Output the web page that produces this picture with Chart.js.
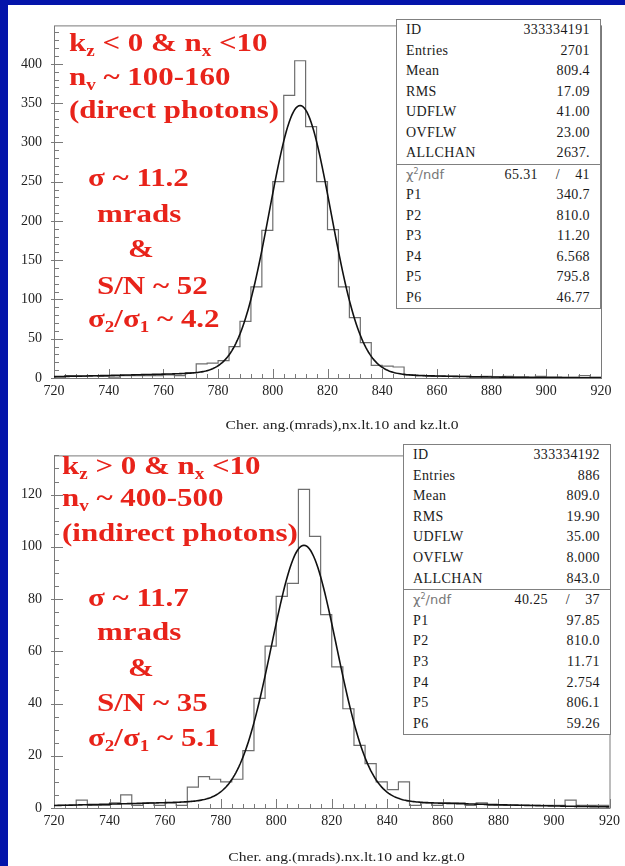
<!DOCTYPE html>
<html lang="en">
<head>
<meta charset="UTF-8">
<title>Cherenkov angle, nx &lt; 10</title>
<script src="https://cdn.jsdelivr.net/npm/chart.js"></script>
<style>
  body {
    margin: 0;
    width: 625px;
    height: 866px;
    position: relative;
    overflow: hidden;
    background: #0414aa;
    font-family: 'Liberation Serif', 'Times New Roman', serif;
  }
  .sheet { position: absolute; left: 8px; top: 5px; width: 617px; height: 861px; background: #fff; }
  canvas { position: absolute; left: 8px; }
  .note {
    position: absolute;
    color: #e8231a;
    font: bold 26px 'Liberation Serif', serif;
    line-height: 1;
    white-space: nowrap;
    transform: scaleX(1.19);
    transform-origin: 0 50%;
  }
  .note sub { font-size: 16px; vertical-align: -5px; line-height: 1; }
  .axis-title {
    position: absolute;
    left: 0;
    width: 625px;
    text-align: center;
    font-size: 13px;
    color: #222;
    white-space: nowrap;
  }
  .axis-title span { display: inline-block; transform: scaleX(1.2); }
  .stats {
    position: absolute;
    box-sizing: border-box;
    background: #fff;
    border: 1px solid #808080;
    font-size: 14px;
    color: #1a1a1a;
    letter-spacing: 0.4px;
  }
  .stats .sec + .sec { border-top: 1px solid #808080; }
  .stats .row {
    position: relative;
    display: flex;
    justify-content: space-between;
    padding: 0 10px 0 9px;
  }
  .stats .chil { font-family: 'DejaVu Sans', sans-serif; font-size: 13px; color: #777; letter-spacing: 0; }
  .stats .chil sup { font-size: 8px; line-height: 0; }
  .stats .chiv { position: absolute; right: 62px; }
  .stats .slash { position: absolute; right: 40px; }
</style>
</head>
<body>
<div class="sheet"></div>

<canvas id="kzNeg" width="617" height="430" style="top:5px"></canvas>
<canvas id="kzPos" width="617" height="431" style="top:435px"></canvas>

<div class="axis-title" id="titleNeg" style="top:417px; padding-left:30px"></div>
<div class="axis-title" id="titlePos" style="top:849px; padding-left:34px"></div>

<div class="stats" id="statsNeg" style="left:396px; top:19px; width:205px;"></div>
<div class="stats" id="statsPos" style="left:403px; top:444px; width:208px;"></div>

<!-- kz < 0 notes -->
<div class="note" style="left:69px; top:30px">k<sub>z</sub> &lt; 0 &amp; n<sub>x</sub> &lt;10</div>
<div class="note" style="left:69px; top:64px">n<sub>v</sub> ~ 100-160</div>
<div class="note" style="left:69px; top:97px">(direct photons)</div>
<div class="note" style="left:88px; top:165px">σ ~ 11.2</div>
<div class="note" style="left:97px; top:201px">mrads</div>
<div class="note" style="left:128px; top:236px">&amp;</div>
<div class="note" style="left:97px; top:273px">S/N ~ 52</div>
<div class="note" style="left:88px; top:306px">σ<sub>2</sub>/σ<sub>1</sub> ~ 4.2</div>

<!-- kz > 0 notes -->
<div class="note" style="left:62px; top:453px">k<sub>z</sub> &gt; 0 &amp; n<sub>x</sub> &lt;10</div>
<div class="note" style="left:62px; top:485px">n<sub>v</sub> ~ 400-500</div>
<div class="note" style="left:62px; top:520px">(indirect photons)</div>
<div class="note" style="left:88px; top:585px">σ ~ 11.7</div>
<div class="note" style="left:97px; top:619px">mrads</div>
<div class="note" style="left:128px; top:655px">&amp;</div>
<div class="note" style="left:97px; top:690px">S/N ~ 35</div>
<div class="note" style="left:88px; top:725px">σ<sub>2</sub>/σ<sub>1</sub> ~ 5.1</div>

<script>
  // 50 bins of 4 mrad from 720 to 920
  const binStart = 720;
  const binWidth = 4;

  const countsKzNeg = [
    1, 3, 2, 3, 2, 1, 3, 3, 3, 3, 4, 3,
    7, 18, 19, 22, 40, 72, 116, 188, 250, 360, 404, 320, 250, 189, 116, 77, 45, 16, 15, 14,
    4, 3, 2, 2, 2, 2, 1, 2, 1, 2, 1, 1, 2, 1, 1, 1, 3, 1
  ];
  const countsKzPos = [
    1, 1, 3, 1, 1, 2, 5, 1, 2, 1, 2, 1,
    8, 12, 11, 10, 11, 22, 42, 62, 81, 86, 122, 104, 74, 54, 38, 24, 17, 10, 7, 10,
    1, 2, 1, 2, 2, 1, 2, 1, 1, 1, 1, 1, 1, 1, 3, 1, 1, 1
  ];

  const xTicks = [720, 740, 760, 780, 800, 820, 840, 860, 880, 900, 920];
  const yTicksKzNeg = [0, 50, 100, 150, 200, 250, 300, 350, 400];
  const yTicksKzPos = [0, 20, 40, 60, 80, 100, 120];

  const statLabels = ['ID', 'Entries', 'Mean', 'RMS', 'UDFLW', 'OVFLW', 'ALLCHAN'];
  const statsKzNeg = ['333334191', '2701', '809.4', '17.09', '41.00', '23.00', '2637.'];
  const statsKzPos = ['333334192', '886', '809.0', '19.90', '35.00', '8.000', '843.0'];

  const chi2KzNeg = ['65.31', '41'];
  const chi2KzPos = ['40.25', '37'];

  // double gaussian fit: P1..P3 narrow peak, P4..P6 wide background
  const parLabels = ['P1', 'P2', 'P3', 'P4', 'P5', 'P6'];
  const parsKzNeg = ['340.7', '810.0', '11.20', '6.568', '795.8', '46.77'];
  const parsKzPos = ['97.85', '810.0', '11.71', '2.754', '806.1', '59.26'];

  const axisTitles = [
    'Cher. ang.(mrads),nx.lt.10 and kz.lt.0',
    'Cher. ang.(mrads).nx.lt.10 and kz.gt.0'
  ];

  const serif = "'Liberation Serif', 'Times New Roman', serif";

  function histPoints(counts) {
    const pts = counts.map((c, i) => ({ x: binStart + i * binWidth, y: c }));
    pts.push({ x: binStart + counts.length * binWidth, y: counts[counts.length - 1] });
    return pts;
  }

  function fitPoints(pars) {
    const [p1, p2, p3, p4, p5, p6] = pars.map(Number);
    const pts = [];
    for (let x = 720; x <= 920; x += 0.5) {
      const y = p1 * Math.exp(-0.5 * ((x - p2) / p3) ** 2) +
                p4 * Math.exp(-0.5 * ((x - p5) / p6) ** 2);
      pts.push({ x, y });
    }
    return pts;
  }

  // frame with inward ticks, PAW style
  const frameTicks = {
    id: 'frameTicks',
    beforeDatasetsDraw(chart, args, opts) {
      const { ctx, chartArea: a, scales: { x, y } } = chart;
      ctx.save();
      ctx.strokeStyle = '#7a7a7a';
      ctx.lineWidth = 1;
      ctx.strokeRect(a.left + 0.5, a.top + 0.5, a.right - a.left, a.bottom - a.top);
      ctx.beginPath();
      for (let v = x.min; v <= x.max + 1e-6; v += opts.xMinor) {
        const px = Math.round(x.getPixelForValue(v)) + 0.5;
        const len = Math.abs((v - x.min) % opts.xMajor) < 1e-6 ? 9 : 4;
        ctx.moveTo(px, a.bottom);
        ctx.lineTo(px, a.bottom - len);
      }
      for (let v = 0; v <= y.max; v += opts.yMinor) {
        const py = Math.round(y.getPixelForValue(v)) + 0.5;
        const major = v % opts.yMajor === 0;
        ctx.moveTo(a.left - (major ? 3 : 0), py);
        ctx.lineTo(a.left + (major ? 9 : 5), py);
      }
      ctx.stroke();
      ctx.restore();
    }
  };

  function makeChart(id, counts, pars, o) {
    new Chart(document.getElementById(id), {
      type: 'line',
      data: {
        datasets: [
          { data: fitPoints(pars), borderColor: '#111', borderWidth: 1.6, pointRadius: 0, order: 0 },
          { data: histPoints(counts), borderColor: '#6e6e6e', borderWidth: 1.2, pointRadius: 0,
            stepped: 'before', order: 1 }
        ]
      },
      options: {
        responsive: false,
        animation: false,
        events: [],
        layout: { padding: { top: o.padTop, right: o.padRight, left: 0, bottom: 0 } },
        plugins: {
          legend: { display: false },
          tooltip: { enabled: false },
          frameTicks: { xMinor: 4, xMajor: 20, yMinor: o.yMinor, yMajor: o.yStep }
        },
        scales: {
          x: {
            type: 'linear',
            min: 720,
            max: 920,
            grid: { display: false, drawTicks: false },
            border: { display: false },
            ticks: { padding: 5, maxRotation: 0, autoSkip: false, color: '#222',
                     font: { family: serif, size: 14 } },
            afterBuildTicks: s => { s.ticks = xTicks.map(v => ({ value: v })); },
            afterFit: s => { s.height = o.xHeight; }
          },
          y: {
            min: 0,
            max: o.yMax,
            grid: { display: false, drawTicks: false },
            border: { display: false },
            ticks: { padding: 12, color: '#222', font: { family: serif, size: 14 } },
            afterBuildTicks: s => { s.ticks = o.yTicks.map(v => ({ value: v })); },
            afterFit: s => { s.width = 46; }
          }
        }
      },
      plugins: [frameTicks]
    });
  }

  function fillStats(el, values, chi2, pars) {
    let html = '<div class="sec">';
    statLabels.forEach((l, i) => {
      html += `<div class="row"><span>${l}</span><span>${values[i]}</span></div>`;
    });
    html += '</div><div class="sec">';
    html += `<div class="row"><span class="chil">χ<sup>2</sup>/ndf</span>` +
            `<span class="chiv">${chi2[0]}</span><span class="slash">/</span><span>${chi2[1]}</span></div>`;
    parLabels.forEach((l, i) => {
      html += `<div class="row"><span>${l}</span><span>${pars[i]}</span></div>`;
    });
    html += '</div>';
    el.innerHTML = html;
  }

  function rowHeights(el, h) {
    el.querySelectorAll('.row').forEach(r => {
      r.style.height = h + 'px';
      r.style.lineHeight = h + 'px';
    });
  }

  makeChart('kzNeg', countsKzNeg, parsKzNeg,
    { padTop: 14, padRight: 24, xHeight: 57, yMax: 449, yStep: 50, yMinor: 10, yTicks: yTicksKzNeg });
  makeChart('kzPos', countsKzPos, parsKzPos,
    { padTop: 9, padRight: 15, xHeight: 58, yMax: 135, yStep: 20, yMinor: 5, yTicks: yTicksKzPos });

  document.getElementById('titleNeg').innerHTML = `<span>${axisTitles[0]}</span>`;
  document.getElementById('titlePos').innerHTML = `<span>${axisTitles[1]}</span>`;

  const boxNeg = document.getElementById('statsNeg');
  const boxPos = document.getElementById('statsPos');
  fillStats(boxNeg, statsKzNeg, chi2KzNeg, parsKzNeg);
  fillStats(boxPos, statsKzPos, chi2KzPos, parsKzPos);
  rowHeights(boxNeg, 20.5);
  rowHeights(boxPos, 20.6);
</script>
</body>
</html>
